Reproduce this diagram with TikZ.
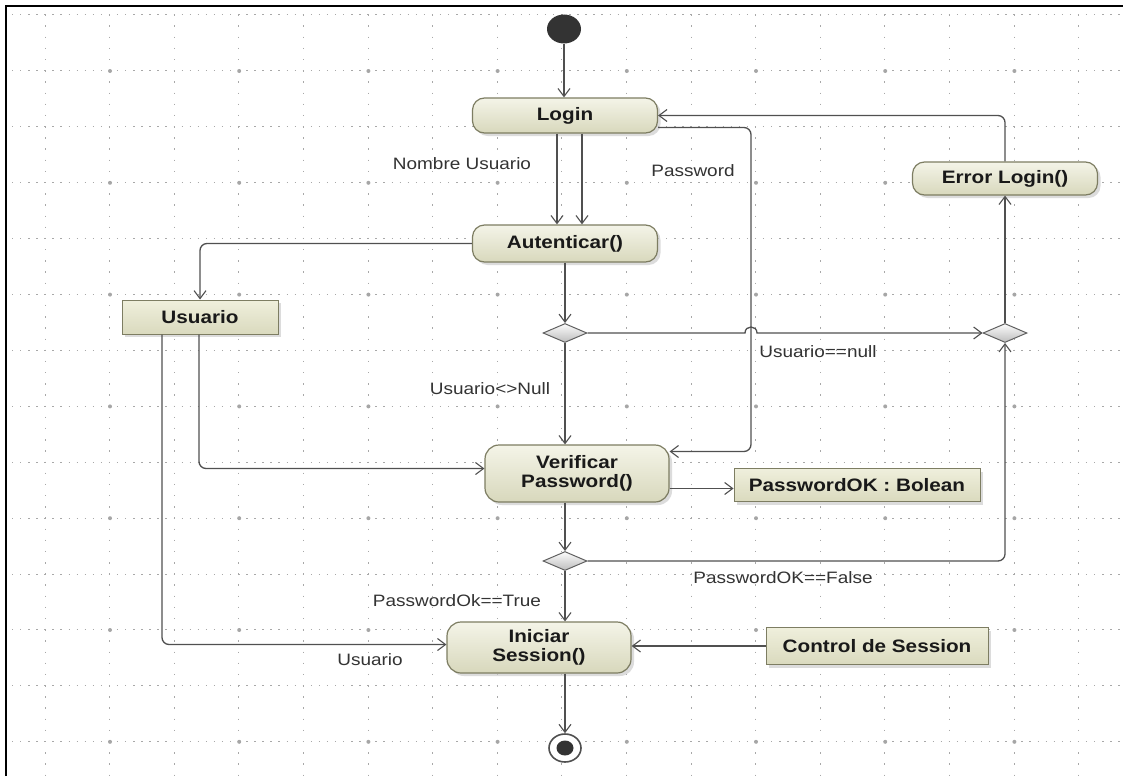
\documentclass[tikz,border=0pt]{standalone}
\usepackage{fontspec}
\setmainfont{Liberation Sans}[FakeStretch=1.15]
\usetikzlibrary{shapes.geometric,arrows.meta,shadows,calc}
\definecolor{edgec}{HTML}{505050}
\definecolor{actb}{HTML}{7D7D62}
\definecolor{actt}{HTML}{F4F4E8}
\definecolor{actbot}{HTML}{D8D8BC}
\definecolor{objt}{HTML}{EFEFDC}
\definecolor{objbot}{HTML}{DADABE}
\definecolor{decf}{HTML}{DEDEDE}
\definecolor{gridc}{HTML}{A8A8A8}
\newcommand{\ndfont}{\fontsize{18}{19.5}\selectfont\bfseries}
\newcommand{\lbfont}{\fontsize{16.5}{18}\selectfont}
\tikzset{
  act/.style={draw=actb, line width=1.2pt, rounded corners=12pt, top color=actt, bottom color=actbot,
    drop shadow={shadow xshift=3pt, shadow yshift=-3pt, fill=gray!45, opacity=0.6},
    font=\ndfont, text=black!90, inner sep=0pt, align=center},
  obj/.style={draw=actb, line width=1pt, rectangle, top color=objt, bottom color=objbot,
    drop shadow={shadow xshift=3pt, shadow yshift=-3pt, fill=gray!45, opacity=0.6},
    font=\ndfont, text=black!90, inner sep=0pt},
  dec/.style={diamond, draw=gray!75!black, top color=white!90!decf, bottom color=decf!85!black,
    minimum width=44pt, minimum height=19pt, inner sep=0pt, line width=1pt},
  arr/.style={draw=edgec, line width=1.3pt, -{Straight Barb[length=8pt,width=12pt,line width=1.1pt]}},
  lbl/.style={font=\lbfont, text=black!80, inner sep=0pt},
  gridv/.style={draw=gridc, line width=1pt, dash pattern=on 1.4pt off 9.78pt},
  gridh/.style={draw=gridc, line width=1pt, dash pattern=on 1.4pt off 6.675pt},
}
\begin{document}
\begin{tikzpicture}[x=1pt,y=-1pt]
\useasboundingbox (0,0) rectangle (1123,776);
\fill[white] (0,0) rectangle (1123,776);
% grid
\begin{scope}
\clip (7,7) rectangle (1123,776);
\foreach \i in {0,...,16} \draw[gridv] ({45+64.6*\i},-41.6) -- ({45+64.6*\i},780);
\foreach \j in {0,...,13} \draw[gridh] (-20.3,{15+55.9*\j}) -- (1130,{15+55.9*\j});
\foreach \i in {0,...,7} \foreach \j in {0,...,6} \fill[gray!70] ({110+129.2*\i},{71+111.8*\j}) circle[radius=2pt];
\end{scope}
\draw[line width=2.6pt, black] (6,776) -- (6,6) -- (1123,6);

% nodes
\node[ellipse, fill=black!80, minimum width=34pt, minimum height=29pt, inner sep=0pt] (init) at (564,29) {};
\node[act, minimum width=185pt, minimum height=35pt] (login) at (565,115.5) {Login};
\node[act, minimum width=185pt, minimum height=37pt] (aut) at (565,243.5) {Autenticar()};
\node[act, minimum width=185pt, minimum height=33pt] (err) at (1005,178.5) {Error Login()};
\node[obj, minimum width=156pt, minimum height=34pt] (usr) at (200,317) {Usuario};
\node[dec] (d1) at (565,333) {};
\node[dec] (d2) at (1005,333) {};
\node[act, minimum width=184pt, minimum height=57pt, rounded corners=14pt] (ver) at (577,473.5) {Verificar\\Password()};
\node[obj, minimum width=246pt, minimum height=33pt] (pok) at (857,485) {PasswordOK : Bolean};
\node[dec] (d3) at (565,561) {};
\node[act, minimum width=184pt, minimum height=51pt, rounded corners=14pt] (ini) at (539,647.5) {Iniciar\\Session()};
\node[obj, minimum width=222pt, minimum height=37pt] (ctrl) at (877,646) {Control de Session};
\node[ellipse, draw=edgec, line width=1.6pt, fill=white, minimum width=32pt, minimum height=28pt, inner sep=0pt] (endo) at (565,748) {};
\node[ellipse, fill=black!80, minimum width=17pt, minimum height=15pt, inner sep=0pt] (endi) at (endo) {};

% labels
\node[lbl] (l1) at (462,164) {Nombre Usuario};
\node[lbl] (l2) at (693,171) {Password};
\node[lbl] (l3) at (818,352) {Usuario==null};
\node[lbl] (l4) at (490,389) {Usuario<>Null};
\node[lbl] (l5) at (783,578) {PasswordOK==False};
\node[lbl] (l6) at (457,601) {PasswordOk==True};
\node[lbl] (l7) at (370,660) {Usuario};

% connectors
\draw[arr] (init) -- (init |- login.north);
\draw[arr] ($(login.south)+(-8,0)$) -- ($(aut.north)+(-8,0)$);
\draw[arr] ($(login.south)+(17,0)$) -- ($(aut.north)+(17,0)$);
\coordinate (pwa) at ($(login.east)+(0,12)$);
\coordinate (pwc) at (751,0);
\coordinate (pwb) at ($(ver.east)+(0,-22)$);
\draw[arr, rounded corners=7pt] (pwa) -- (pwa -| pwc) |- (pwb);
\draw[arr, rounded corners=7pt] (err.north) |- (login.east);
\draw[arr, rounded corners=7pt] (aut.west) -| (usr.north);
\draw[arr] (aut) -- (d1);
\coordinate (ha) at (745,333);
\coordinate (hb) at (757,333);
\draw[arr] (d1.east) -- (ha) .. controls +(0,-8) and +(0,-8) .. (hb) -- (d2.west);
\draw[arr] (d2.north) -- (err.south);
\draw[arr] (d1.south) -- (d1.south |- ver.north);
\coordinate (us1) at ($(usr.south)+(-1,0)$);
\coordinate (vw) at ($(ver.west)+(0,-5)$);
\draw[arr, rounded corners=7pt] (us1) |- (vw);
\coordinate (us2) at ($(usr.south)+(-38,0)$);
\coordinate (iw) at ($(ini.west)+(0,-3)$);
\draw[arr, rounded corners=7pt] (us2) |- (iw);
\coordinate (vp) at ($(ver.east)+(0,15)$);
\draw[arr] (vp) -- (vp -| pok.west);
\draw[arr] (d3.north |- ver.south) -- (d3.north);
\draw[arr, rounded corners=7pt] (d3.east) -| (d2.south);
\draw[arr] (d3.south) -- (d3.south |- ini.north);
\draw[arr] (ctrl.west) -- (ctrl.west -| ini.east);
\draw[arr] (endo.north |- ini.south) -- (endo.north);
\end{tikzpicture}
\end{document}
